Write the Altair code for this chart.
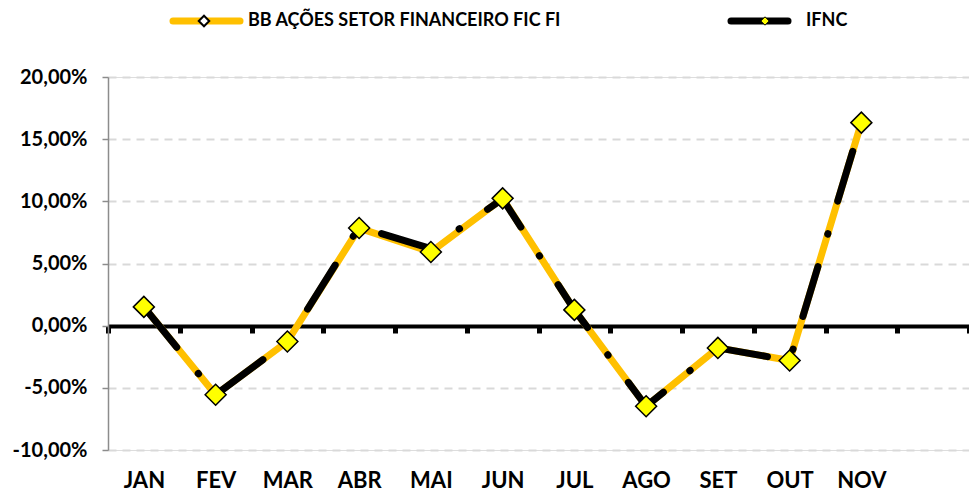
import altair as alt
import pandas as pd

months = ["JAN", "FEV", "MAR", "ABR", "MAI", "JUN", "JUL", "AGO", "SET", "OUT", "NOV", "DEZ"]
bb_values = [1.51, -5.56, -1.27, 7.85, 5.93, 10.24, 1.27, -6.48, -1.79, -2.80, 16.33]
ifnc_values = [1.51, -5.56, -1.27, 7.95, 6.20, 10.20, 1.27, -6.48, -1.79, -2.80, 16.33]
series_names = ["BB AÇÕES SETOR FINANCEIRO FIC FI", "IFNC"]
y_ticks = [-10, -5, 0, 5, 10, 15, 20]

FONT = "Lato"
ORANGE = "#FFC000"
YELLOW = "#FFFF00"

bb_df = pd.DataFrame({"mes": months[:len(bb_values)], "valor": bb_values})
ifnc_df = pd.DataFrame({"mes": months[:len(ifnc_values)], "valor": ifnc_values})

PLOT_H = 373
x_enc = alt.X(
    "mes:N",
    sort=months,
    scale=alt.Scale(domain=months, type="band", paddingInner=0, paddingOuter=0),
    axis=alt.Axis(
        title=None,
        orient="bottom",
        offset=-round(PLOT_H / 3),
        domainColor="black",
        domainWidth=4,
        tickColor="black",
        tickWidth=5,
        tickSize=7,
        tickBand="extent",
        labelAngle=0,
        labelPadding=137,
        labelBaseline="top",
        labelFont=FONT,
        labelFontSize=22,
        labelFontWeight="bold",
        labelColor="black",
        labelExpr="datum.value == 'DEZ' ? '' : datum.value",
        grid=False,
    ),
)
y_enc = alt.Y(
    "valor:Q",
    scale=alt.Scale(domain=[-10, 20], nice=False),
    axis=alt.Axis(
        title=None,
        values=y_ticks,
        labelExpr="(datum.value < 0 ? '-' : '') + replace(format(abs(datum.value), '.2f'), '.', ',') + '%'",
        labelFont=FONT,
        labelFontSize=20,
        labelFontWeight="bold",
        labelColor="black",
        labelPadding=15,
        domainColor="#8c8c8c",
        domainWidth=1.5,
        tickColor="#8c8c8c",
        tickWidth=1.5,
        tickSize=6,
        grid=True,
        gridColor="#d9d9d9",
        gridWidth=2,
        gridDash=[8, 6],
    ),
)

bb_line = alt.Chart(bb_df).mark_line(color=ORANGE, strokeWidth=7, strokeCap="round", strokeJoin="round").encode(
    x=x_enc, y=y_enc
)
ifnc_line = alt.Chart(ifnc_df).mark_line(
    color="black", strokeWidth=7, strokeCap="round", strokeJoin="round", strokeDash=[52, 34, 0.5, 34]
).encode(x=alt.X("mes:N", sort=months), y="valor:Q")
bb_points = alt.Chart(bb_df).mark_point(
    shape="diamond", filled=True, fill=YELLOW, stroke="black", strokeWidth=1.5, size=440, opacity=1
).encode(x=alt.X("mes:N", sort=months), y="valor:Q")

# Legend
leg_df1 = pd.DataFrame({"nome": [series_names[0]]})
leg_df2 = pd.DataFrame({"nome": [series_names[1]]})
LY = -56
leg1_line = alt.Chart(leg_df1).mark_rule(color=ORANGE, strokeWidth=7, strokeCap="round").encode(
    x=alt.value(65), x2=alt.value(132), y=alt.value(LY)
)
leg1_pt = alt.Chart(leg_df1).mark_point(
    shape="diamond", filled=True, fill="white", stroke="black", strokeWidth=2, size=110, opacity=1
).encode(x=alt.value(96), y=alt.value(LY))
leg1_txt = alt.Chart(leg_df1).mark_text(
    align="left", baseline="middle", font=FONT, fontSize=18, fontWeight="bold", color="black"
).encode(x=alt.value(140), y=alt.value(LY), text="nome:N")
leg2_line = alt.Chart(leg_df2).mark_rule(color="black", strokeWidth=7, strokeCap="round").encode(
    x=alt.value(623), x2=alt.value(680), y=alt.value(LY)
)
leg2_pt = alt.Chart(leg_df2).mark_point(
    shape="diamond", filled=True, fill=YELLOW, stroke="black", strokeWidth=1, size=70, opacity=1
).encode(x=alt.value(657), y=alt.value(LY))
leg2_txt = alt.Chart(leg_df2).mark_text(
    align="left", baseline="middle", font=FONT, fontSize=18, fontWeight="bold", color="black"
).encode(x=alt.value(698), y=alt.value(LY), text="nome:N")

chart = alt.layer(
    bb_line, ifnc_line, bb_points, leg1_line, leg1_pt, leg1_txt, leg2_line, leg2_pt, leg2_txt
).properties(
    width=861,
    height=PLOT_H,
    autosize=alt.AutoSizeParams(type="none"),
    padding={"left": 100, "top": 69, "right": 0, "bottom": 44},
).configure_view(stroke=None).configure(background="white")

chart.save("out.html", embed_options={"renderer": "svg", "actions": False})
